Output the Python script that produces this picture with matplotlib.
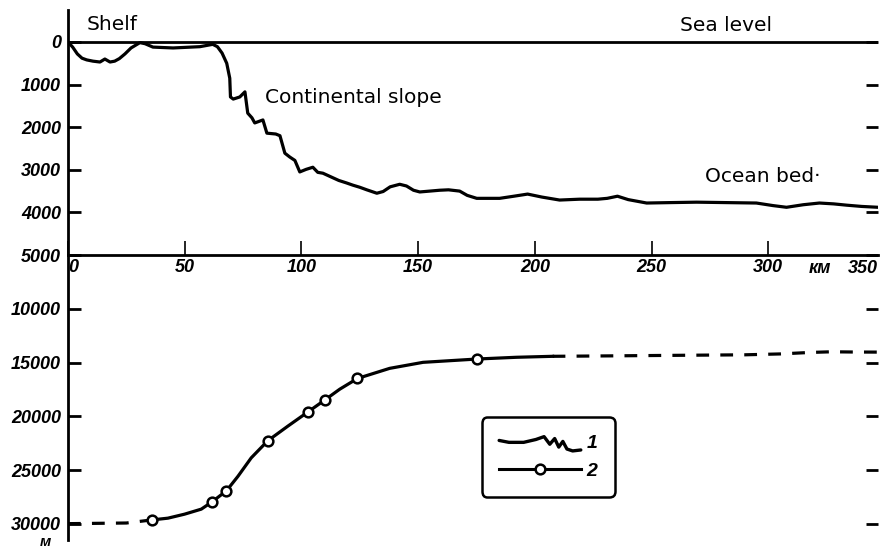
import numpy as np
import matplotlib
matplotlib.use("Agg")
import matplotlib.pyplot as plt
from matplotlib.lines import Line2D
from matplotlib.legend_handler import HandlerBase

# profile 1: sea floor depth (m) along the section (km)
floor_km = [0, 2, 4, 6, 8, 10.7, 13.7, 15.8, 18, 20, 22, 24.4, 27, 30.8, 33, 36.4, 45,
            56.5, 62, 64, 66, 68, 69.3, 69.6, 70.8, 73.6, 75.8, 77, 78.8, 80, 83.5,
            85.2, 89, 90.8, 92.9, 95, 97.2, 99.3, 102, 104.9, 107, 109.2, 112, 116,
            119.4, 122, 125.0, 128, 132.3, 135, 138, 142.1, 145, 148, 150.7, 155,
            159.2, 163, 167.8, 171, 175.1, 180, 184.9, 191, 196.9, 203, 210.6, 219.2,
            227, 231, 235.4, 240, 247.9, 258, 269.3, 282, 294.9, 302, 307.8, 315,
            321.9, 328, 333.5, 340, 347]
floor_depth = [0, 120, 280, 380, 420, 450, 470, 400, 470, 450, 390, 280, 140, 15, 40,
               120, 140, 110, 55, 110, 260, 500, 850, 1290, 1340, 1290, 1170, 1670,
               1780, 1900, 1830, 2140, 2160, 2200, 2610, 2700, 2780, 3050, 2990, 2940,
               3060, 3080, 3150, 3250, 3310, 3360, 3410, 3470, 3550, 3510, 3400, 3340,
               3380, 3480, 3520, 3500, 3480, 3470, 3500, 3600, 3670, 3670, 3670, 3620,
               3570, 3640, 3710, 3690, 3690, 3670, 3620, 3700, 3780, 3770, 3760, 3770,
               3780, 3840, 3880, 3820, 3780, 3800, 3830, 3860, 3880]

# profile 2: depth of the boundary (m), measured points and drawn curve
point_km = [36.1, 61.6, 67.9, 85.6, 103.0, 109.9, 124.0, 175.4]
point_depth = [29630, 27970, 26920, 22270, 19560, 18500, 16480, 14670]
curve_km = [36.1, 42.8, 49.9, 57.1, 61.6, 67.9, 72.8, 78.5, 85.6, 94.2, 103.0, 109.9,
            116.4, 124.0, 137.8, 152.1, 175.4, 192.1, 207.6]
curve_depth = [29630, 29470, 29100, 28630, 27970, 26920, 25580, 23860, 22270, 20910,
               19560, 18500, 17480, 16480, 15540, 14980, 14670, 14510, 14420]
left_dash_km = [0, 25, 36.1]
left_dash_depth = [29980, 29920, 29630]
right_dash_km = [207.6, 232, 260, 290, 305, 318, 327, 336, 347]
right_dash_depth = [14420, 14380, 14330, 14280, 14200, 14060, 14000, 14020, 14030]

top_ticks = [0, 1000, 2000, 3000, 4000, 5000]
bottom_ticks = [10000, 15000, 20000, 25000, 30000]
km_ticks = [0, 50, 100, 150, 200, 250, 300]

# legend glyph for profile 1 (wiggly line)
wave_x = [0, 0.12, 0.3, 0.45, 0.55, 0.62, 0.68, 0.73, 0.78, 0.83, 0.9, 1.0]
wave_y = [0.55, 0.45, 0.45, 0.6, 0.75, 0.35, 0.65, 0.2, 0.5, 0.1, 0.0, 0.05]

tick_font = dict(family="Liberation Sans", style="italic", weight="bold", size=13)
text_font = dict(family="DejaVu Sans", size=14.5)


class WavyHandler(HandlerBase):
    def create_artists(self, legend, orig_handle, xdescent, ydescent,
                       width, height, fontsize, trans):
        xs = np.array(wave_x) * width - xdescent
        ys = (np.array(wave_y) * 1.4 - 0.2) * height - ydescent
        line = Line2D(xs, ys, color="black", lw=2.4, solid_capstyle="round")
        line.set_transform(trans)
        return [line]


W, H = 880, 548
fig = plt.figure(figsize=(8.8, 5.48), dpi=100)
x0, x1 = 68 / W, 878 / W
ax_bot = fig.add_axes([x0, (H - 540) / H, x1 - x0, (540 - 255) / H])
ax_top = fig.add_axes([x0, (H - 255) / H, x1 - x0, (255 - 10) / H])
ax_top.set_zorder(3)
ax_top.patch.set_visible(False)

# --- top panel: relief ---
ax_top.axhline(0, color="black", lw=2)
ax_top.plot(floor_km, floor_depth, color="black", lw=2.3, solid_joinstyle="round")
ax_top.set_xlim(0, 347)
ax_top.set_ylim(5000, -751)
ax_top.spines["top"].set_visible(False)
ax_top.spines["right"].set_visible(False)
ax_top.spines["left"].set_linewidth(2)
ax_top.spines["bottom"].set_linewidth(2)
ax_top.set_yticks(top_ticks)
ax_top.set_yticklabels([str(t) for t in top_ticks], **tick_font)
ax_top.set_xticks(km_ticks)
ax_top.set_xticklabels([str(t) for t in km_ticks], **tick_font)
ax_top.xaxis.get_ticklabels()[0].set_horizontalalignment("left")
ax_top.tick_params(axis="y", direction="in", length=9, width=2, pad=5,
                   right=True, labelright=False)
ax_top.tick_params(axis="x", direction="in", length=10, width=1.2, pad=3)

ax_top.text(8.1, -282, "Shelf", va="baseline", **text_font)
ax_top.text(262, -258, "Sea level", va="baseline", **text_font)
ax_top.text(84.4, 1432, "Continental slope", va="baseline", **text_font)
ax_top.text(273, 3286, "Ocean bed·", va="baseline", **text_font)

# --- bottom panel: boundary depth ---
ax_bot.plot(curve_km, curve_depth, color="black", lw=2.3)
ax_bot.plot(left_dash_km, left_dash_depth, color="black", lw=2.3, dashes=(4, 3.5))
ax_bot.plot(right_dash_km, right_dash_depth, color="black", lw=2.3, dashes=(4, 3.5))
ax_bot.plot(point_km, point_depth, ls="none", marker="o", ms=7,
            mfc="white", mec="black", mew=1.8)
ax_bot.set_xlim(0, 347)
ax_bot.set_ylim(31500, 5000)
for s in ["top", "right", "bottom"]:
    ax_bot.spines[s].set_visible(False)
ax_bot.spines["left"].set_linewidth(2)
ax_bot.set_xticks([])
ax_bot.set_yticks(bottom_ticks)
ax_bot.set_yticklabels([str(t) for t in bottom_ticks], **tick_font)
ax_bot.tick_params(axis="y", direction="in", length=9, width=2, pad=5,
                   right=True, labelright=False)

ax_bot.text(347, 5500, "350", ha="right", va="top", **tick_font)
ax_bot.text(322, 5500, "км", ha="center", va="top", **tick_font)
fig.text(45 / W, 2 / H, "м", ha="center", va="baseline",
         family="Liberation Sans", style="italic", weight="bold", size=11)

h1 = Line2D([], [], color="black", lw=2.4)
h2 = Line2D([], [], color="black", lw=2.2, marker="o", ms=7,
            mfc="white", mec="black", mew=1.8)
leg = ax_bot.legend([h1, h2], ["1", "2"], loc="center",
                    bbox_to_anchor=(0.593, 0.291), handler_map={h1: WavyHandler()},
                    prop=dict(family="Liberation Sans", style="italic", weight="bold", size=14),
                    handlelength=4.2, handletextpad=0.3, borderpad=0.9,
                    labelspacing=0.5, frameon=True, fancybox=True, framealpha=1)
frame = leg.get_frame()
frame.set_edgecolor("black")
frame.set_linewidth(1.8)
frame.set_boxstyle("round,pad=0,rounding_size=0.3")

fig.savefig("out.png", dpi=100)
